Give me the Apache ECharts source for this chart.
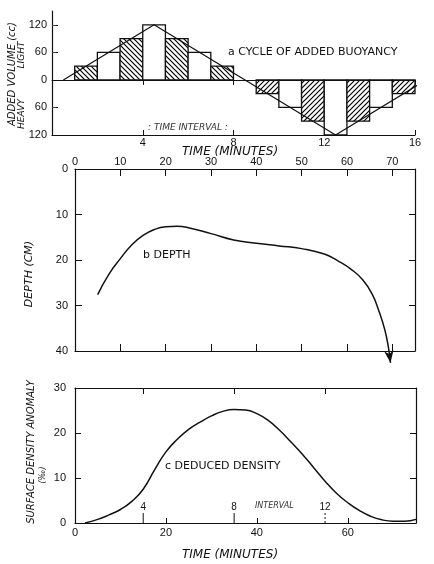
<!DOCTYPE html>
<html>
<head>
<meta charset="utf-8">
<script src="https://cdn.jsdelivr.net/npm/echarts@6/dist/echarts.min.js"></script>
<style>
  html, body { margin: 0; padding: 0; background: #fff; }
  #chart1 { width: 434px; height: 564px; }
</style>
</head>
<body>
<div id="chart1"></div>
<script>
// a: added volume per time interval (cc), + light / - heavy
var intervalStart = [1, 2, 3, 4, 5, 6, 7, 9, 10, 11, 12, 13, 14, 15];
var addedVolume = [30, 60, 90, 120, 90, 60, 30, -30, -60, -90, -120, -90, -60, -30];
var cycleTime = [0.5, 4.5, 12.5, 16.5];
var cycleVolume = [0, 120, -120, 0];
var intervalTicks = [4, 8, 12, 16];
var volumeTicks = [-120, -60, 0, 60, 120];

// b: depth (cm) vs time (minutes)
var depthTime = [5, 7.5, 10, 12.5, 15, 17.5, 20, 22.5, 25, 30, 35, 40, 45, 50, 55, 58, 61, 63.5, 65.5, 67, 68.3, 69.1, 69.6];
var depthCm = [27.6, 23.1, 19.7, 16.7, 14.6, 13.3, 12.7, 12.6, 12.9, 14.2, 15.6, 16.3, 16.9, 17.5, 18.7, 20.2, 22.1, 24.4, 27.4, 31.1, 35.2, 39.0, 42.6];

// c: deduced surface density anomaly (per mil)
var densityTime = [2.2, 5, 7.5, 10, 12.5, 15, 17.5, 20, 22.5, 25, 27.5, 30, 32.5, 35, 37.5, 40, 42.5, 45, 47.5, 50, 52.5, 55, 57.5, 60, 62.5, 65, 67.5, 70, 72.5, 75];
var densityAnomaly = [0, 0.8, 1.8, 3.0, 4.8, 7.5, 11.8, 15.8, 18.6, 20.8, 22.4, 23.8, 24.8, 25.2, 25.1, 24.3, 22.8, 20.6, 18.0, 15.3, 12.3, 9.3, 6.6, 4.5, 2.8, 1.5, 0.7, 0.4, 0.4, 0.8];
var markTime = [15, 35, 55];
var markLabel = ['4', '8', '12'];

var ink = '#111';
var numFont = 'Liberation Sans';

// 斜线填充
function hatch(dir) {
    var c = document.createElement('canvas');
    c.width = 5; c.height = 5;
    var g = c.getContext('2d');
    g.fillStyle = '#fff';
    g.fillRect(0, 0, 5, 5);
    g.strokeStyle = '#000';
    g.lineWidth = 1.2;
    g.beginPath();
    if (dir > 0) {
        g.moveTo(-1, -1); g.lineTo(6, 6);
        g.moveTo(-1, 4); g.lineTo(1, 6);
        g.moveTo(4, -1); g.lineTo(6, 1);
    } else {
        g.moveTo(-1, 6); g.lineTo(6, -1);
        g.moveTo(-1, 1); g.lineTo(1, -1);
        g.moveTo(4, 6); g.lineTo(6, 4);
    }
    g.stroke();
    return c;
}
var hatchDown = hatch(1);
var hatchUp = hatch(-1);

function axisBase(extra) {
    var base = {
        type: 'value',
        axisLine: { show: true, onZero: false, lineStyle: { color: ink, width: 1.2 } },
        axisTick: { show: true, inside: true, length: 6, lineStyle: { color: ink, width: 1 } },
        axisLabel: { show: false, color: ink, fontFamily: numFont, fontSize: 11 },
        splitLine: { show: false }
    };
    return Object.assign(base, extra);
}

function rotText(x, y, text, size) {
    return {
        type: 'text', x: x, y: y, rotation: Math.PI / 2,
        style: {
            text: text, fill: ink, textAlign: 'center', textVerticalAlign: 'middle',
            font: 'italic ' + (size || 10) + 'px "DejaVu Sans"'
        }
    };
}

function plainText(x, y, text, size, italic) {
    return {
        type: 'text', x: x, y: y,
        style: {
            text: text, fill: ink, textAlign: 'left', textVerticalAlign: 'middle',
            font: (italic ? 'italic ' : '') + (size || 11) + 'px "DejaVu Sans"'
        }
    };
}

var myChart = echarts.init(document.getElementById('chart1'));
myChart.setOption({
    backgroundColor: '#fff',
    animation: false,
    grid: [
        { left: 52, top: 11, width: 363, height: 124 },
        { left: 75, top: 169, width: 340, height: 182 },
        { left: 75, top: 388, width: 341, height: 135 }
    ],
    xAxis: [
        axisBase({
            gridIndex: 0, position: 'bottom', min: 0, max: 16,
            axisTick: { show: true, inside: true, length: 5, customValues: intervalTicks, lineStyle: { color: ink } },
            axisLabel: { show: true, color: ink, fontFamily: numFont, fontSize: 11, margin: 2, customValues: intervalTicks }
        }),
        axisBase({
            gridIndex: 0, position: 'top', min: 0, max: 16,
            axisLine: { show: true, lineStyle: { color: '#333', width: 1 } },
            axisTick: { show: true, inside: true, length: 5, customValues: intervalTicks, lineStyle: { color: ink } }
        }),
        axisBase({
            gridIndex: 1, position: 'top', min: 0, max: 75, interval: 10,
            axisTick: { show: true, inside: true, length: 7, lineStyle: { color: ink } },
            axisLabel: { show: true, color: ink, fontFamily: numFont, fontSize: 11, margin: 2, showMaxLabel: false }
        }),
        axisBase({
            gridIndex: 1, position: 'bottom', min: 0, max: 75, interval: 10,
            axisTick: { show: true, inside: true, length: 7, lineStyle: { color: ink } }
        }),
        axisBase({
            gridIndex: 2, position: 'bottom', min: 0, max: 75, interval: 20,
            axisTick: { show: true, inside: true, length: 5, lineStyle: { color: ink } },
            axisLabel: { show: true, color: ink, fontFamily: numFont, fontSize: 11, margin: 4, showMaxLabel: false }
        }),
        axisBase({
            gridIndex: 2, position: 'top', min: 0, max: 75,
            axisTick: { show: true, inside: true, length: 6, customValues: markTime, lineStyle: { color: ink } }
        })
    ],
    yAxis: [
        axisBase({
            gridIndex: 0, position: 'left', min: -120, max: 150,
            axisTick: { show: true, inside: true, length: 6, customValues: volumeTicks, lineStyle: { color: ink } },
            axisLabel: {
                show: true, color: ink, fontFamily: numFont, fontSize: 11, margin: 5,
                customValues: volumeTicks,
                formatter: function (v) { return Math.abs(v); }
            }
        }),
        axisBase({
            gridIndex: 0, position: 'right', min: -120, max: 150, offset: 13,
            axisLine: { show: false },
            axisTick: { show: true, inside: false, length: 4, customValues: [-60, 60, 120], lineStyle: { color: '#444' } }
        }),
        axisBase({
            gridIndex: 1, position: 'left', min: 0, max: 40, interval: 10, inverse: true,
            axisTick: { show: true, inside: true, length: 7, lineStyle: { color: ink } },
            axisLabel: { show: true, color: ink, fontFamily: numFont, fontSize: 11, margin: 7 }
        }),
        axisBase({
            gridIndex: 1, position: 'right', min: 0, max: 40, interval: 10, inverse: true,
            axisTick: { show: true, inside: true, length: 6, lineStyle: { color: ink } }
        }),
        axisBase({
            gridIndex: 2, position: 'left', min: 0, max: 30, interval: 10,
            axisTick: { show: true, inside: true, length: 6, lineStyle: { color: ink } },
            axisLabel: { show: true, color: ink, fontFamily: numFont, fontSize: 11, margin: 9 }
        }),
        axisBase({
            gridIndex: 2, position: 'right', min: 0, max: 30, interval: 10,
            axisTick: { show: true, inside: true, length: 6, lineStyle: { color: ink } }
        })
    ],
    series: [
        {
            type: 'custom',
            xAxisIndex: 0, yAxisIndex: 0,
            data: intervalStart.map(function (t, i) { return [t, addedVolume[i]]; }),
            renderItem: function (params, api) {
                var t = api.value(0), v = api.value(1);
                var p0 = api.coord([t, 0]);
                var p1 = api.coord([t + 1, v]);
                // odd intervals are hatched
                var striped = t % 2 === 1;
                return {
                    type: 'rect',
                    shape: {
                        x: p0[0], y: Math.min(p0[1], p1[1]),
                        width: p1[0] - p0[0], height: Math.abs(p1[1] - p0[1])
                    },
                    style: {
                        fill: striped ? { image: v > 0 ? hatchDown : hatchUp, repeat: 'repeat' } : '#fff',
                        stroke: ink, lineWidth: 1.3
                    }
                };
            }
        },
        {
            type: 'line',
            xAxisIndex: 0, yAxisIndex: 0,
            data: cycleTime.map(function (t, i) { return [t, cycleVolume[i]]; }),
            symbol: 'none',
            clip: false,
            lineStyle: { color: ink, width: 1.2 },
            markLine: {
                silent: true, symbol: 'none', label: { show: false },
                lineStyle: { color: ink, width: 1.2, type: 'solid' },
                data: [{ yAxis: 0 }]
            }
        },
        {
            type: 'line',
            xAxisIndex: 2, yAxisIndex: 2,
            data: depthTime.map(function (t, i) {
                var item = { value: [t, depthCm[i]] };
                if (i === depthTime.length - 1) {
                    item.symbol = 'arrow';
                    item.symbolSize = [7, 12];
                    item.symbolRotate = 188;
                    item.itemStyle = { color: ink };
                }
                return item;
            }),
            symbol: 'none',
            showSymbol: true,
            smooth: 0.5,
            clip: false,
            lineStyle: { color: ink, width: 1.5 }
        },
        {
            type: 'line',
            xAxisIndex: 4, yAxisIndex: 4,
            data: densityTime.map(function (t, i) { return [t, densityAnomaly[i]]; }),
            symbol: 'none',
            smooth: 0.5,
            lineStyle: { color: ink, width: 1.5 }
        },
        {
            type: 'custom',
            xAxisIndex: 4, yAxisIndex: 4,
            data: markTime.map(function (t, i) { return [t, markLabel[i]]; }),
            renderItem: function (params, api) {
                var p = api.coord([api.value(0), 0]);
                return {
                    type: 'group',
                    children: [
                        { type: 'line', shape: { x1: p[0], y1: p[1], x2: p[0], y2: p[1] - 10 },
                          style: { stroke: ink, lineWidth: 1, lineDash: params.dataIndex === 2 ? [2, 2] : null } },
                        { type: 'text', x: p[0], y: p[1] - 16,
                          style: { text: markLabel[params.dataIndex], fill: ink, textAlign: 'center',
                                   textVerticalAlign: 'middle', font: '10px "Liberation Sans"' } }
                    ]
                };
            }
        }
    ],
    graphic: [
        rotText(12, 74, 'ADDED VOLUME (cc)', 10),
        rotText(22, 114, 'HEAVY', 9),
        rotText(22, 55, 'LIGHT', 9),
        plainText(228, 52, 'a CYCLE OF ADDED BUOYANCY', 11),
        {
            type: 'text', x: 188, y: 128,
            style: { text: ': TIME INTERVAL :', fill: '#333', textAlign: 'center', textVerticalAlign: 'middle',
                     font: 'italic 9px "DejaVu Sans"' }
        },
        {
            type: 'text', x: 230, y: 152,
            style: { text: 'TIME (MINUTES)', fill: ink, textAlign: 'center', textVerticalAlign: 'middle',
                     font: 'italic 12px "DejaVu Sans"' }
        },
        rotText(29, 274, 'DEPTH (CM)', 11),
        plainText(143, 255, 'b DEPTH', 11),
        rotText(31, 452, 'SURFACE DENSITY ANOMALY', 10),
        rotText(43, 475, '(‰)', 8),
        plainText(165, 466, 'c DEDUCED DENSITY', 11),
        {
            type: 'text', x: 255, y: 506,
            style: { text: 'INTERVAL', fill: '#333', textAlign: 'left', textVerticalAlign: 'middle',
                     font: 'italic 8px "DejaVu Sans"' }
        },
        {
            type: 'text', x: 230, y: 555,
            style: { text: 'TIME (MINUTES)', fill: ink, textAlign: 'center', textVerticalAlign: 'middle',
                     font: 'italic 12px "DejaVu Sans"' }
        }
    ]
});
</script>
</body>
</html>
